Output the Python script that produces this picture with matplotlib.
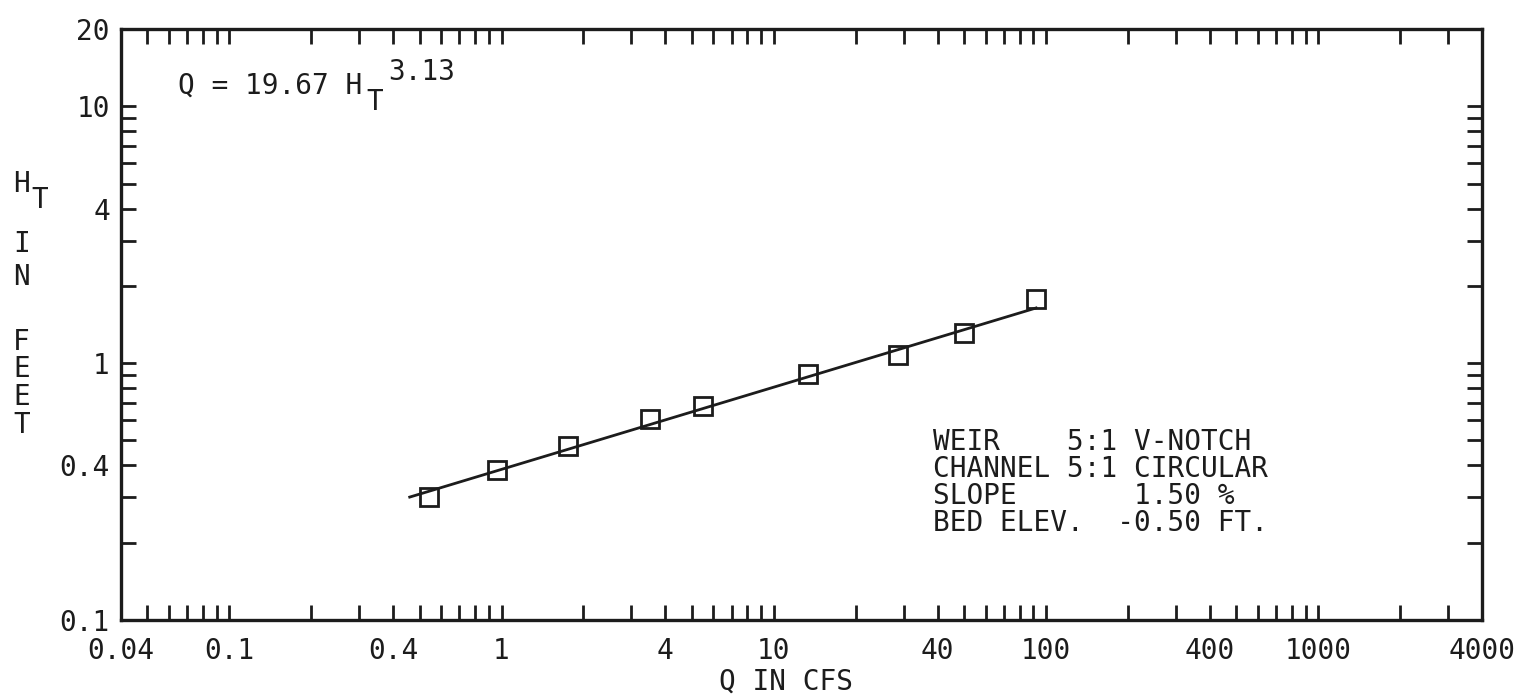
import matplotlib
matplotlib.use('Agg')
import matplotlib.pyplot as plt
from matplotlib.ticker import FixedLocator, FixedFormatter, NullFormatter

# measured points (Q in cfs, H_T in feet)
q_cfs = [0.54, 0.96, 1.76, 3.52, 5.52, 13.4, 28.5, 49.8, 91.6]
h_ft = [0.301, 0.384, 0.476, 0.606, 0.681, 0.908, 1.076, 1.311, 1.778]

# rating curve Q = 19.67 H^3.13, end points
fit_q = [0.46, 92.0]
fit_h = [0.301, 1.64]

x_major = [0.04, 0.1, 0.4, 1, 4, 10, 40, 100, 400, 1000, 4000]
x_labels = ["0.04", "0.1", "0.4", "1", "4", "10", "40", "100", "400", "1000", "4000"]
y_major = [0.1, 0.4, 1, 4, 10, 20]
y_labels = ["0.1", "0.4", "1", "4", "10", "20"]

info_lines = ["WEIR    5:1 V-NOTCH",
              "CHANNEL 5:1 CIRCULAR",
              "SLOPE       1.50 %",
              "BED ELEV.  -0.50 FT."]

INK = '#1c1c1c'
FONT = 'DejaVu Sans Mono'
FS = 20
W, H = 1535, 695

def minor_ticks(lo, hi, skip):
    out = []
    for e in range(-3, 5):
        for m in range(1, 10):
            v = round(m * 10.0**e, 6)
            if lo < v < hi and v not in skip:
                out.append(v)
    return out

fig = plt.figure(figsize=(W/100, H/100), dpi=100)
ax = fig.add_axes([121/W, 1-620/H, (1482-121)/W, (620-29)/H])

ax.plot(fit_q, fit_h, '-', color=INK, lw=2.0)
ax.plot(q_cfs, h_ft, 's', ms=13, mfc='none', mec=INK, mew=2.0)

ax.set_xscale('log')
ax.set_yscale('log')
ax.set_xlim(0.04, 4000)
ax.set_ylim(0.1, 20)

ax.xaxis.set_major_locator(FixedLocator(x_major))
ax.xaxis.set_major_formatter(FixedFormatter(x_labels))
ax.xaxis.set_minor_locator(FixedLocator(minor_ticks(0.04, 4000, x_major)))
ax.xaxis.set_minor_formatter(NullFormatter())
ax.yaxis.set_major_locator(FixedLocator(y_major))
ax.yaxis.set_major_formatter(FixedFormatter(y_labels))
ax.yaxis.set_minor_locator(FixedLocator(minor_ticks(0.1, 20, y_major)))
ax.yaxis.set_minor_formatter(NullFormatter())

ax.tick_params(which='both', direction='in', length=11, width=2.0, color=INK,
               top=True, right=True)
ax.tick_params(axis='x', pad=12, labelsize=FS, labelcolor=INK)
ax.tick_params(axis='y', pad=8, labelsize=FS, labelcolor=INK)
for lab in ax.get_xticklabels() + ax.get_yticklabels():
    lab.set_family(FONT)
for s in ax.spines.values():
    s.set_linewidth(2.4)
    s.set_color(INK)

def px(x, y):
    return x / W, 1 - y / H

# equation
fig.text(*px(178, 94), "Q = 19.67 H", family=FONT, fontsize=FS, color=INK)
fig.text(*px(366, 110), "T", family=FONT, fontsize=FS, color=INK)
fig.text(*px(388, 80), "3.13", family=FONT, fontsize=FS, color=INK)

# y label, stacked letters
fig.text(*px(13, 192), "H", family=FONT, fontsize=FS, color=INK)
fig.text(*px(31, 208), "T", family=FONT, fontsize=FS, color=INK)
for ch, yy in zip("INFEET", [252, 285, 350, 377, 405, 433]):
    fig.text(*px(13, yy), ch, family=FONT, fontsize=FS, color=INK)

# x label
fig.text(*px(786, 690), "Q IN CFS", family=FONT, fontsize=FS, color=INK, ha='center')

# site info
fig.text(*px(933, 428), "\n".join(info_lines), family=FONT, fontsize=FS,
         color=INK, va='top', linespacing=0.95)

fig.savefig('out.png', dpi=100)
